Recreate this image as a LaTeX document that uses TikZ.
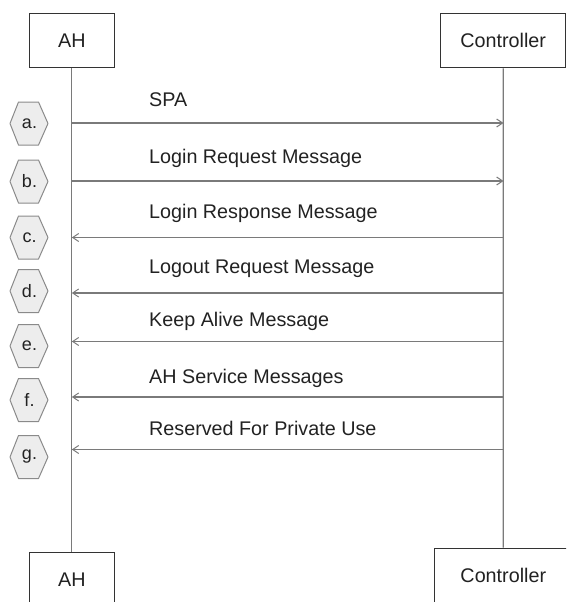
\documentclass[tikz,border=0pt]{standalone}
\usepackage{fontspec}
\setmainfont{Liberation Sans}
\usetikzlibrary{arrows.meta}
\definecolor{inkc}{HTML}{222222}
\definecolor{boxc}{HTML}{333333}
\definecolor{linec}{HTML}{7A7A7A}
\definecolor{hexfillc}{HTML}{EDEDED}
\definecolor{hexlinec}{HTML}{8A8A8A}
\begin{document}
\begin{tikzpicture}[x=1pt,y=-1pt,
  actor/.style={draw=boxc, line width=1.3pt, fill=white, inner sep=0pt,
    minimum height=54.4pt, font=\fontsize{19.75}{22}\selectfont, text=inkc},
  lifeline/.style={draw=linec, line width=1.3pt},
  msg/.style={draw=linec, line width=1.3pt, -{Straight Barb[length=6pt,width=8pt,line width=1pt]}},
  msglabel/.style={anchor=base west, inner sep=0pt, font=\fontsize{19.75}{22}\selectfont, text=inkc},
  hexshape/.style={fill=hexfillc, draw=hexlinec, line width=1pt, line join=round},
  hexlabel/.style={inner sep=0pt, font=\fontsize{18}{20}\selectfont, text=inkc}]
\useasboundingbox (0,0) rectangle (566,602);
\clip (0,0) rectangle (566,602);

% participants, top and bottom
\node[actor, minimum width=85pt]  (ahtop)  at (71.8,40.5)  {AH};
\node[actor, minimum width=125pt] (ctltop) at (503.2,40.5) {Controller};
\node[actor, minimum width=85pt]  (ahbot)  at (71.8,579.9) {AH};
\node[actor, minimum width=138pt] (ctlbot) at (503.3,575.5) {Controller};

% lifelines
\draw[lifeline] (ahtop.south) -- (ahbot.north);
\draw[lifeline] (ctltop.south) -- (ctlbot.north);

% message end points on the two lifelines
\foreach \k/\y in {a/123,b/181,c/237.5,d/293,e/341.5,f/397,g/449.5}{
  \coordinate (L\k) at (71.8,\y);
  \coordinate (R\k) at (503.5,\y);
}

% messages AH -> Controller
\draw[msg] (La) -- (Ra);
\draw[msg] (Lb) -- (Rb);
% messages Controller -> AH
\draw[msg] (Rc) -- (Lc);
\draw[msg] (Rd) -- (Ld);
\draw[msg] (Re) -- (Le);
\draw[msg] (Rf) -- (Lf);
\draw[msg] (Rg) -- (Lg);

% message labels
\node[msglabel] (ta) at (149,106)   {SPA};
\node[msglabel] (tb) at (149,163)   {Login Request Message};
\node[msglabel] (tc) at (149,218.5) {Login Response Message};
\node[msglabel] (td) at (149,273.5) {Logout Request Message};
\node[msglabel] (te) at (149,326.5) {Keep Alive Message};
\node[msglabel] (tf) at (149,383)   {AH Service Messages};
\node[msglabel] (tg) at (149,435)   {Reserved For Private Use};

% step markers
\foreach \k/\y in {a/123.5,b/181.5,c/237.5,d/291,e/346,f/400,g/457}{
  \path[hexshape] (10,\y) -- (18.5,\y-21.5) -- (38.5,\y-21.5) -- (48,\y)
     -- (38.5,\y+21.5) -- (18.5,\y+21.5) -- cycle;
  \node[hexlabel] (hex\k) at (29.5,\y) {\k.};
}
\end{tikzpicture}
\end{document}
